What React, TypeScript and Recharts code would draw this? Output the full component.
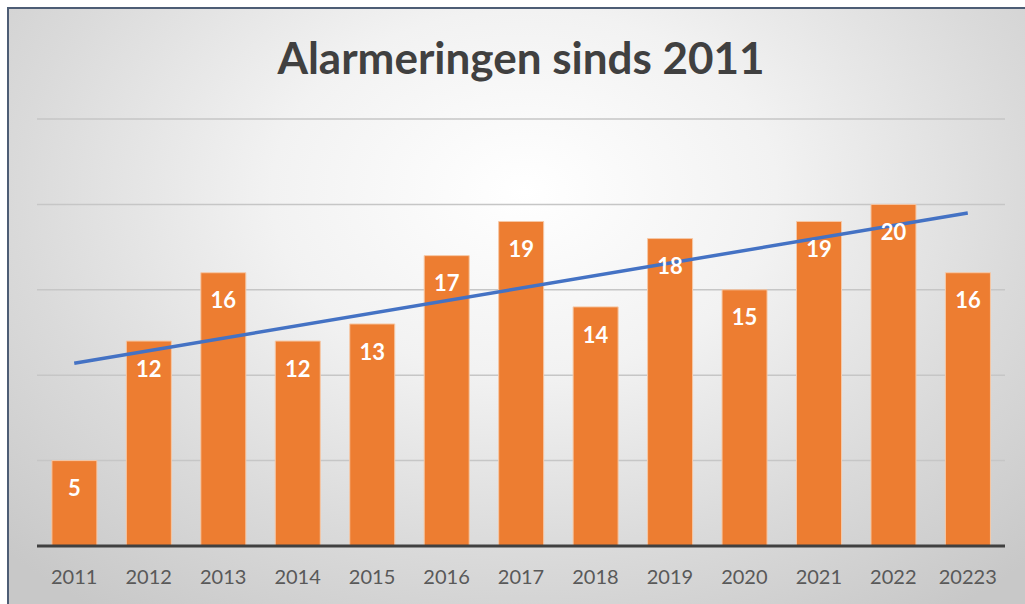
import React from 'react';
import { ComposedChart, Bar, Line, XAxis, YAxis, CartesianGrid, LabelList } from 'recharts';

const years = ['2011', '2012', '2013', '2014', '2015', '2016', '2017', '2018', '2019', '2020', '2021', '2022', '20223'];
const alarmeringen = [5, 12, 16, 12, 13, 17, 19, 14, 18, 15, 19, 20, 16];
// trendline: start and end only
const trend = [10.7, null, null, null, null, null, null, null, null, null, null, null, 19.5];
const yTicks = [0, 5, 10, 15, 20, 25];

const data = years.map((year, i) => ({
  year,
  value: alarmeringen[i],
  trend: trend[i],
}));

export default function App() {
  return (
    <div
      style={{
        position: 'absolute',
        left: 0,
        top: 0,
        width: 1025,
        height: 604,
        overflow: 'hidden',
        background: '#ffffff',
      }}
    >
      <div
        style={{
          position: 'absolute',
          left: 7,
          top: 7,
          width: 1030,
          height: 610,
          borderTop: '2px solid #4d5d75',
          borderLeft: '2px solid #4d5d75',
          background:
            'radial-gradient(ellipse 70% 85% at 50% 30%, #ffffff 0%, #f2f2f2 35%, #dadada 70%, #c8c8c8 100%)',
        }}
      />
      <div
        style={{
          position: 'absolute',
          left: 0,
          top: 31,
          width: 1042,
          textAlign: 'center',
          fontFamily: 'Lato, sans-serif',
          fontWeight: 'bold',
          fontSize: 44,
          color: '#404040',
        }}
      >
        Alarmeringen sinds 2011
      </div>
      <div style={{ position: 'absolute', left: 0, top: 0 }}>
        <ComposedChart
          width={1025}
          height={604}
          data={data}
          margin={{ top: 119, right: 20, left: 37, bottom: 0 }}
          barCategoryGap="20%"
        >
          <CartesianGrid vertical={false} stroke="#c6c6c6" strokeWidth={1.5} />
          <XAxis
            dataKey="year"
            height={58}
            axisLine={{ stroke: '#404040', strokeWidth: 3 }}
            tickLine={false}
            tickMargin={18}
            tick={{ fill: '#595959', fontSize: 20, fontFamily: 'Lato, sans-serif' }}
            interval={0}
          />
          <YAxis hide domain={[0, 25]} ticks={yTicks} />
          <Bar dataKey="value" fill="#ED7D31" stroke="#f6c8a6" strokeWidth={1} isAnimationActive={false}>
            <LabelList
              dataKey="value"
              position="insideTop"
              offset={20}
              fill="#ffffff"
              fontSize={22}
              fontWeight="bold"
              fontFamily="Lato, sans-serif"
            />
          </Bar>
          <Line
            dataKey="trend"
            stroke="#4472C4"
            strokeWidth={3.5}
            dot={false}
            connectNulls
            isAnimationActive={false}
          />
        </ComposedChart>
      </div>
    </div>
  );
}
